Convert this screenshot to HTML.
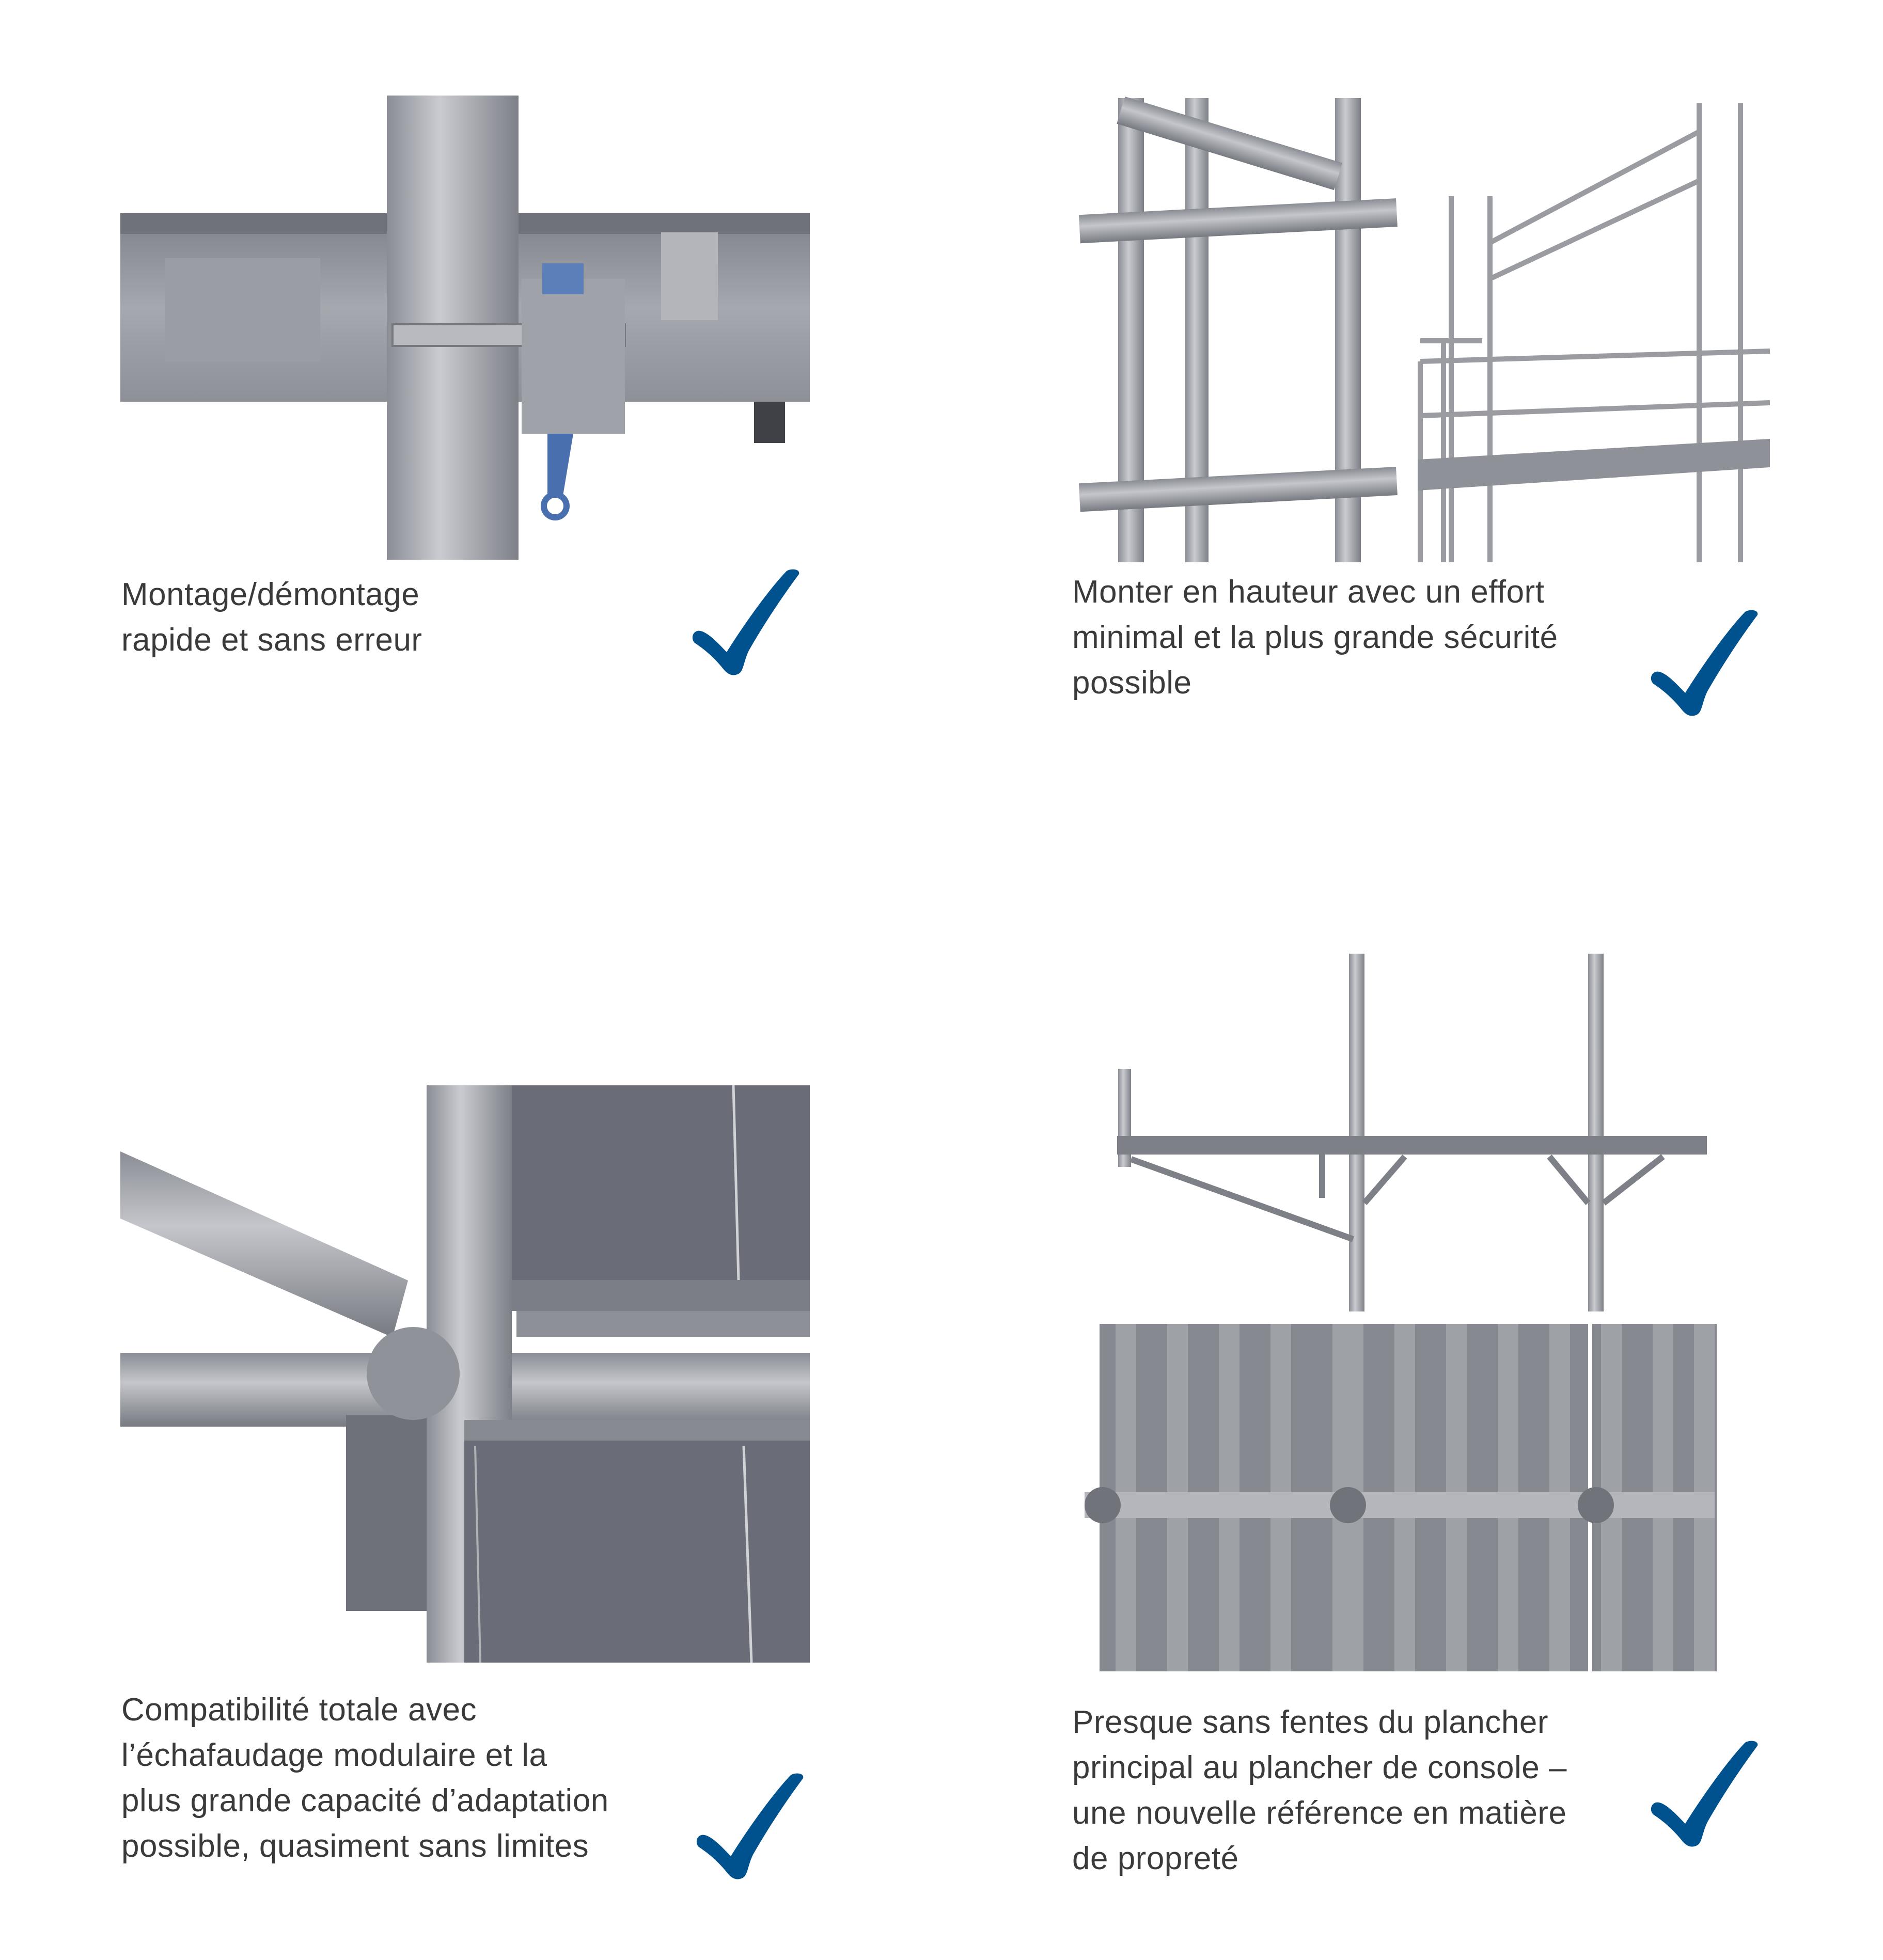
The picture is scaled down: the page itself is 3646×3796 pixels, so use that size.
<!DOCTYPE html>
<html><head><meta charset="utf-8"><style>
html,body{margin:0;padding:0;background:#fff;}
body{width:3646px;height:3796px;position:relative;overflow:hidden;font-family:"Liberation Sans",sans-serif;}
.t{position:absolute;font-size:62px;line-height:88px;color:#3a3a3a;font-weight:300;letter-spacing:0.5px;}
svg{position:absolute;left:0;top:0;}
</style></head><body>
<svg width="3646" height="3796" viewBox="0 0 3646 3796">
<defs>
<symbol id="ck" viewBox="0 0 210 210"><path d="M10,122 C25,118 50,145 67,163 C100,110 150,40 183,6 C192,0 210,2 207,12 C190,35 150,90 110,160 C100,180 100,200 90,205 C80,210 70,208 60,195 C40,170 20,155 5,145 C-2,138 0,125 10,122 Z" fill="#00528f"/></symbol>
<linearGradient id="pv" x1="0" x2="1" y1="0" y2="0"><stop offset="0" stop-color="#8a8d94"/><stop offset="0.4" stop-color="#c9cbd0"/><stop offset="1" stop-color="#7d8087"/></linearGradient>
<linearGradient id="ph" x1="0" x2="0" y1="0" y2="1"><stop offset="0" stop-color="#8a8d94"/><stop offset="0.4" stop-color="#c4c6cb"/><stop offset="1" stop-color="#777a81"/></linearGradient>
<linearGradient id="bm" x1="0" x2="0" y1="0" y2="1"><stop offset="0" stop-color="#7e8189"/><stop offset="0.5" stop-color="#a5a8ae"/><stop offset="1" stop-color="#8d9097"/></linearGradient>
</defs>
<!-- top-left -->
<rect x="233" y="413" width="1335" height="365" fill="url(#bm)"/>
<rect x="233" y="413" width="1335" height="40" fill="#6f727a"/>
<rect x="320" y="500" width="300" height="200" fill="#9a9da3"/>
<rect x="1280" y="450" width="110" height="170" fill="#b3b5ba"/>
<rect x="1460" y="778" width="60" height="80" fill="#3f4147"/>
<rect x="749" y="185" width="255" height="899" fill="url(#pv)"/>
<rect x="760" y="628" width="450" height="42" fill="#b8bac0" stroke="#75787e" stroke-width="4"/>
<rect x="1010" y="540" width="200" height="300" fill="#9fa2a8"/>
<rect x="1050" y="510" width="80" height="60" fill="#5b7fb8"/>
<path d="M1060,840 L1110,840 L1090,960 L1060,960 Z" fill="#4a6fae"/>
<circle cx="1075" cy="980" r="22" fill="none" stroke="#4a6fae" stroke-width="12"/>
<!-- top-right -->
<g fill="url(#pv)">
<rect x="2165" y="190" width="50" height="899"/><rect x="2295" y="190" width="45" height="899"/><rect x="2585" y="190" width="50" height="899"/>
</g>
<g fill="url(#ph)">
<rect x="2090" y="400" width="615" height="55" transform="rotate(-3 2400 430)"/>
<rect x="2090" y="920" width="615" height="55" transform="rotate(-3 2400 950)"/>
<rect x="2160" y="250" width="440" height="55" transform="rotate(17 2380 280)"/>
</g>
<g stroke="#9a9ca2" stroke-width="10" fill="none">
<line x1="2810" y1="380" x2="2810" y2="1089"/><line x1="2885" y1="380" x2="2885" y2="1089"/>
<line x1="3290" y1="200" x2="3290" y2="1089"/><line x1="3370" y1="200" x2="3370" y2="1089"/>
<line x1="2750" y1="700" x2="2750" y2="1089"/><line x1="2795" y1="660" x2="2795" y2="1089"/>
<line x1="2885" y1="470" x2="3290" y2="255"/><line x1="2885" y1="540" x2="3290" y2="350"/>
<line x1="2750" y1="700" x2="3427" y2="680"/><line x1="2750" y1="805" x2="3427" y2="780"/>
<line x1="2750" y1="660" x2="2870" y2="660"/>
</g>
<path d="M2745,890 L3427,850 L3427,905 L2745,950 Z" fill="#8e9197"/>
<!-- bottom-left -->
<rect x="984" y="2102" width="584" height="377" fill="#6a6d77"/>
<line x1="1420" y1="2102" x2="1430" y2="2479" stroke="#d0d2d6" stroke-width="5"/>
<rect x="960" y="2479" width="608" height="60" fill="#7b7e86"/>
<rect x="1000" y="2539" width="568" height="50" fill="#8d9097"/>
<path d="M233,2230 L233,2360 L760,2590 L790,2480 Z" fill="url(#ph)"/>
<rect x="233" y="2620" width="1335" height="143" fill="url(#ph)"/>
<rect x="670" y="2740" width="200" height="380" fill="#6e7179"/>
<rect x="826" y="2102" width="165" height="1118" fill="url(#pv)"/>
<rect x="899" y="2770" width="669" height="450" fill="#6a6d77"/>
<rect x="899" y="2750" width="669" height="40" fill="#878a91"/>
<line x1="1440" y1="2800" x2="1455" y2="3220" stroke="#d0d2d6" stroke-width="5"/>
<line x1="920" y1="2800" x2="930" y2="3220" stroke="#b0b2b6" stroke-width="4"/>
<circle cx="800" cy="2660" r="90" fill="#8f9299"/>
<!-- bottom-right top -->
<g fill="url(#pv)">
<rect x="2165" y="2070" width="25" height="190"/>
<rect x="2612" y="1847" width="30" height="693"/>
<rect x="3075" y="1847" width="30" height="693"/>
</g>
<rect x="2163" y="2200" width="1142" height="36" fill="#7d8087"/>
<g stroke="#7d8087" stroke-width="12" fill="none">
<line x1="2190" y1="2245" x2="2620" y2="2400"/><line x1="2560" y1="2230" x2="2560" y2="2320"/>
<line x1="2642" y1="2330" x2="2720" y2="2240"/><line x1="3075" y1="2330" x2="3000" y2="2240"/>
<line x1="3105" y1="2330" x2="3220" y2="2240"/>
</g>
<!-- bottom-right lower -->
<rect x="2129" y="2564" width="1195" height="673" fill="#86898f"/>
<g fill="#9ea1a6">
<rect x="2160" y="2564" width="40" height="673"/><rect x="2260" y="2564" width="40" height="673"/><rect x="2360" y="2564" width="40" height="673"/><rect x="2460" y="2564" width="40" height="673"/><rect x="2580" y="2564" width="60" height="673"/><rect x="2700" y="2564" width="40" height="673"/><rect x="2800" y="2564" width="40" height="673"/><rect x="2900" y="2564" width="40" height="673"/><rect x="3000" y="2564" width="40" height="673"/><rect x="3100" y="2564" width="40" height="673"/><rect x="3200" y="2564" width="40" height="673"/><rect x="3280" y="2564" width="40" height="673"/>
</g>
<rect x="3075" y="2564" width="8" height="673" fill="#fff"/>
<rect x="2100" y="2890" width="1220" height="50" fill="#b4b6bb"/>
<circle cx="2135" cy="2915" r="35" fill="#707379"/><circle cx="2610" cy="2915" r="35" fill="#707379"/><circle cx="3090" cy="2915" r="35" fill="#707379"/>
<!-- checks -->
<use href="#ck" x="1340" y="1100" width="210" height="210"/>
<use href="#ck" x="3196" y="1179" width="210" height="210"/>
<use href="#ck" x="1348" y="3432" width="210" height="210"/>
<use href="#ck" x="3196" y="3369" width="210" height="210"/>
</svg>
<div class="t" style="left:235px;top:1108px">Montage/démontage<br>rapide et sans erreur</div>
<div class="t" style="left:2076px;top:1103px">Monter en hauteur avec un effort<br>minimal et la plus grande sécurité<br>possible</div>
<div class="t" style="left:235px;top:3268px">Compatibilité totale avec<br>l’échafaudage modulaire et la<br>plus grande capacité d’adaptation<br>possible, quasiment sans limites</div>
<div class="t" style="left:2076px;top:3292px">Presque sans fentes du plancher<br>principal au plancher de console –<br>une nouvelle référence en matière<br>de propreté</div>
</body></html>
